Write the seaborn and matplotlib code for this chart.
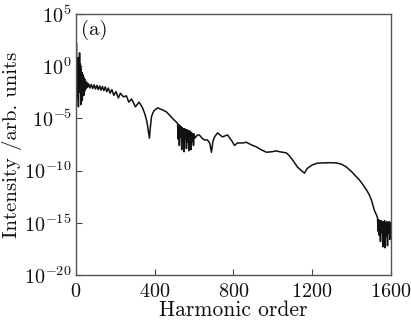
import numpy as np
import pandas as pd
import matplotlib
matplotlib.use("Agg")
import matplotlib.pyplot as plt
import seaborn as sns
from matplotlib.ticker import FixedLocator, FuncFormatter

# ----------------------------------
# Spectrum (harmonic order, log10 intensity)
# ----------------------------------
order_low = [0, 2, 4, 6, 8, 10, 12, 14, 16, 18, 20, 22, 24, 26, 28, 30, 32, 34,
             36, 38, 40, 42, 44, 46, 48, 50, 53, 56, 60]
logi_low = [-3.5, 2.2, -3.2, 0.3, -2.8, 0.8, -3.9, -0.5, -2.0, 1.26, -2.5, 0.2,
            -3.7, -0.2, -2.9, -0.6, -3.3, -0.8, -2.6, -1.0, -2.8, -1.2, -2.4,
            -1.3, -2.2, -1.5, -2.1, -1.6, -2.0]

order_plateau = [64, 71, 78, 85, 92, 99, 106, 113, 120, 127, 134, 141, 148, 156,
                 164, 173, 182, 192, 203, 215, 226, 241, 256, 268, 282, 302, 320,
                 338, 350, 360, 367, 373, 378, 384, 395, 414, 440, 460, 478, 495,
                 512]
logi_plateau = [-1.7, -2.1, -1.75, -2.15, -1.8, -2.2, -1.85, -2.25, -1.9, -2.3,
                -1.95, -2.35, -2.0, -2.45, -2.1, -2.6, -2.25, -2.8, -2.45, -3.05,
                -2.6, -2.95, -2.85, -3.45, -3.15, -3.9, -3.45, -4.0, -4.6, -5.3,
                -6.2, -6.9, -5.8, -4.8, -4.3, -4.0, -4.2, -4.4, -4.75, -5.1, -5.4]

order_mid = [516, 519, 522, 525, 528, 531, 534, 537, 540, 543, 546, 549, 552, 555,
             558, 561, 564, 567, 570, 573, 576, 579, 582, 585, 588, 591, 594, 597,
             600, 604]
logi_mid = [-5.5, -7.0, -5.6, -7.6, -5.7, -6.8, -5.8, -8.0, -5.9, -7.2, -6.0,
            -8.2, -6.0, -7.0, -6.1, -7.9, -6.1, -7.3, -6.2, -8.1, -6.2, -7.4,
            -6.3, -8.0, -6.4, -7.2, -6.5, -7.6, -6.5, -6.9]

order_tail = [617, 627, 640, 653, 668, 680, 688, 696, 704, 719, 744, 770, 795,
              805, 820, 846, 866, 892, 917, 940, 968, 995, 1019, 1034, 1050, 1069,
              1085, 1105, 1125, 1145, 1161, 1175, 1201, 1225, 1252, 1290, 1323,
              1350, 1374, 1400, 1425, 1440, 1460, 1476, 1490, 1501, 1516, 1528]
logi_tail = [-6.6, -6.6, -6.9, -7.07, -7.07, -7.4, -8.25, -7.2, -6.78, -6.4,
             -6.78, -6.59, -7.26, -7.6, -7.36, -7.36, -7.3, -7.55, -7.74, -8.0,
             -8.25, -8.2, -8.12, -8.2, -8.25, -8.31, -8.6, -9.1, -9.66, -10.0,
             -10.25, -9.8, -9.46, -9.3, -9.27, -9.25, -9.27, -9.4, -9.66, -10.1,
             -10.6, -10.9, -11.4, -11.86, -12.3, -12.8, -13.8, -14.3]

order_cut = [1532, 1535, 1538, 1541, 1544, 1547, 1550, 1553, 1556, 1559, 1562,
             1565, 1568, 1571, 1574, 1577, 1580, 1583, 1586, 1589, 1592, 1595,
             1598, 1600]
logi_cut = [-14.5, -15.8, -14.7, -16.2, -14.8, -16.8, -14.8, -15.9, -14.9, -17.3,
            -14.9, -16.1, -14.8, -17.4, -15.0, -16.3, -14.9, -17.2, -15.0, -16.0,
            -14.9, -16.6, -15.0, -15.5]

df = pd.DataFrame({
    "order": order_low + order_plateau + order_mid + order_tail + order_cut,
    "logi": logi_low + logi_plateau + logi_mid + logi_tail + logi_cut,
})
df["intensity"] = 10.0 ** df["logi"]

# ----------------------------------
# Style
# ----------------------------------
sns.set_style("ticks")
plt.rcParams["font.family"] = ["cmr10", "DejaVu Serif"]
plt.rcParams["mathtext.fontset"] = "cm"
plt.rcParams["axes.formatter.use_mathtext"] = True

fig = plt.figure(figsize=(4.11, 3.22), dpi=100)
ax = fig.add_axes([0.185, 0.146, 0.766, 0.811])

sns.lineplot(data=df, x="order", y="intensity", color="#111111", lw=1.1,
             ax=ax, sort=False, estimator=None)

ax.set_yscale("log")
ax.set_xlim(0, 1600)
ax.set_ylim(1e-20, 1e5)
ax.xaxis.set_major_locator(FixedLocator([0, 400, 800, 1200, 1600]))
ax.yaxis.set_major_locator(FixedLocator([1e5, 1e0, 1e-5, 1e-10, 1e-15, 1e-20]))
ax.yaxis.set_minor_locator(FixedLocator([]))
ax.yaxis.set_major_formatter(
    FuncFormatter(lambda v, p: r"$10^{%d}$" % int(round(np.log10(v)))))

ax.tick_params(direction="in", length=4, width=0.8, colors="#444444",
               labelcolor="#111111", labelsize=14.5, pad=3)
ax.tick_params(axis="x", pad=5.5)
for s in ax.spines.values():
    s.set_color("#555555")
    s.set_linewidth(1.0)

ax.set_xlabel("Harmonic order", fontsize=15.5, labelpad=0, color="#111111")
ax.set_ylabel("Intensity /arb. units", fontsize=15, labelpad=2, color="#111111")
ax.text(0.015, 0.975, "(a)", transform=ax.transAxes, fontsize=15,
        ha="left", va="top", color="#111111")

fig.savefig("out.png", dpi=100)
